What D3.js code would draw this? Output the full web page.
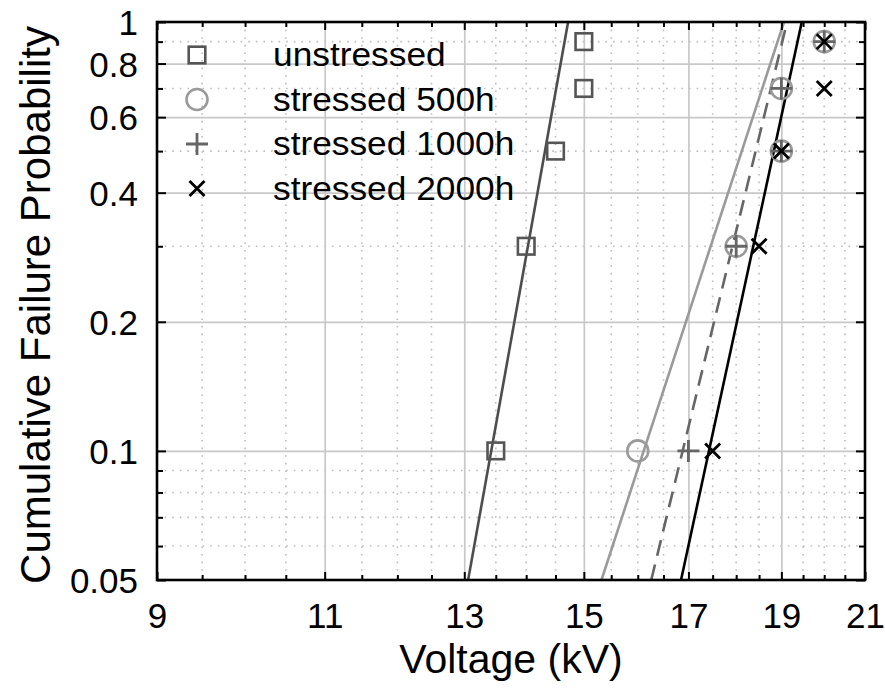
<!DOCTYPE html>
<html>
<head>
<meta charset="utf-8">
<script src="https://cdn.jsdelivr.net/npm/d3@7"></script>
<style>
  body { margin: 0; background: #fff; }
  svg { display: block; font-family: "Liberation Sans", Arial, Helvetica, sans-serif; }
</style>
</head>
<body>
<div id="chart"></div>
<script>
const seriesNames = ["unstressed", "stressed 500h", "stressed 1000h", "stressed 2000h"];
const probabilities = [0.1, 0.3, 0.5, 0.7, 0.9];
const unstressedVoltage = [13.5, 14, 14.5, 15, 15];
const stressed500Voltage = [16, 18, 19, 19, 20];
const stressed1000Voltage = [17, 18, 19, 19, 20];
const stressed2000Voltage = [17.5, 18.5, 19, 20, 20];

// fitted lines, voltage where each fit reaches F = 0.05 and F = 1
const fitProbabilities = [0.05, 1];
const unstressedFit = [13.06, 14.72];
const stressed500Fit = [15.32, 19.06];
const stressed1000Fit = [16.26, 19.13];
const stressed2000Fit = [16.85, 19.47];

const xTicks = [9, 11, 13, 15, 17, 19, 21];
const xMinorTicks = d3.range(9.5, 21, 0.5).filter(d => !xTicks.includes(d));
const yTicks = [0.05, 0.1, 0.2, 0.4, 0.6, 0.8, 1];
const yMinorTicks = [0.06, 0.07, 0.08, 0.09, 0.3, 0.5, 0.7, 0.9];

const series = [
  { name: seriesNames[0], v: unstressedVoltage, fit: unstressedFit, marker: "square", color: "#555", line: "#4d4d4d", dash: null },
  { name: seriesNames[1], v: stressed500Voltage, fit: stressed500Fit, marker: "circle", color: "#9a9a9a", line: "#9a9a9a", dash: null },
  { name: seriesNames[2], v: stressed1000Voltage, fit: stressed1000Fit, marker: "plus", color: "#666", line: "#666", dash: "16,9" },
  { name: seriesNames[3], v: stressed2000Voltage, fit: stressed2000Fit, marker: "cross", color: "#000", line: "#000", dash: null }
];

const width = 885, height = 692;
const margin = { top: 22, right: 20, bottom: 112, left: 157 };
const innerW = width - margin.left - margin.right;
const innerH = height - margin.top - margin.bottom;

const svg = d3.select("#chart")
  .append("svg")
  .attr("width", width)
  .attr("height", height);

svg.append("rect").attr("width", width).attr("height", height).attr("fill", "#fff");

const g = svg.append("g").attr("transform", `translate(${margin.left},${margin.top})`);

const x = d3.scaleLog().domain([9, 21]).range([0, innerW]);
const y = d3.scaleLog().domain([0.05, 1]).range([innerH, 0]);

g.append("defs").append("clipPath").attr("id", "plot-clip")
  .append("rect").attr("width", innerW).attr("height", innerH);

// dotted minor grid
g.append("g")
  .selectAll("line")
  .data(xMinorTicks)
  .enter().append("line")
  .attr("x1", d => x(d)).attr("x2", d => x(d))
  .attr("y1", 0).attr("y2", innerH)
  .style("stroke", "#bdbdbd")
  .style("stroke-width", 1.6)
  .style("stroke-dasharray", "1.6,6");

g.append("g")
  .selectAll("line")
  .data(yMinorTicks)
  .enter().append("line")
  .attr("x1", 0).attr("x2", innerW)
  .attr("y1", d => y(d)).attr("y2", d => y(d))
  .style("stroke", "#bdbdbd")
  .style("stroke-width", 1.6)
  .style("stroke-dasharray", "1.6,6");

// solid major grid
g.append("g")
  .attr("class", "grid")
  .call(d3.axisBottom(x).tickValues(xTicks.slice(1, -1)).tickSize(innerH).tickFormat(""))
  .call(s => s.select(".domain").remove())
  .selectAll("line")
  .style("stroke", "#c8c8c8")
  .style("stroke-width", 1.7);

g.append("g")
  .attr("class", "grid")
  .call(d3.axisLeft(y).tickValues(yTicks.slice(1, -1)).tickSize(-innerW).tickFormat(""))
  .call(s => s.select(".domain").remove())
  .selectAll("line")
  .style("stroke", "#c8c8c8")
  .style("stroke-width", 1.7);

// fitted lines
const line = d3.line()
  .x(d => x(d[0]))
  .y(d => y(d[1]));

g.append("g")
  .attr("clip-path", "url(#plot-clip)")
  .selectAll("path")
  .data(series)
  .enter().append("path")
  .attr("d", s => line(s.fit.map((v, i) => [v, fitProbabilities[i]])))
  .attr("fill", "none")
  .attr("stroke", s => s.line)
  .attr("stroke-width", 2.6)
  .attr("stroke-dasharray", s => s.dash);

function drawMarker(sel, type, color) {
  if (type === "square") {
    sel.append("rect")
      .attr("x", -8.3).attr("y", -8.3)
      .attr("width", 16.6).attr("height", 16.6)
      .attr("fill", "none").attr("stroke", color).attr("stroke-width", 2.6);
  } else if (type === "circle") {
    sel.append("circle")
      .attr("r", 10.5)
      .attr("fill", "none").attr("stroke", color).attr("stroke-width", 2.6);
  } else if (type === "plus") {
    sel.append("path")
      .attr("d", "M-11,0H11M0,-11V11")
      .attr("stroke", color).attr("stroke-width", 2.8);
  } else {
    sel.append("path")
      .attr("d", "M-7.5,-7.5L7.5,7.5M-7.5,7.5L7.5,-7.5")
      .attr("stroke", color).attr("stroke-width", 2.8);
  }
}

series.forEach(s => {
  g.append("g")
    .selectAll("g")
    .data(s.v.map((v, i) => [v, probabilities[i]]))
    .enter().append("g")
    .attr("transform", d => `translate(${x(d[0])},${y(d[1])})`)
    .each(function () { drawMarker(d3.select(this), s.marker, s.color); });
});

// axes box with inward ticks on all sides
const tickStyle = sel => sel.selectAll("line").attr("stroke", "#000").attr("stroke-width", 2);

g.append("g")
  .attr("transform", `translate(0,${innerH})`)
  .call(d3.axisBottom(x).tickValues(xMinorTicks).tickSize(-5).tickFormat(""))
  .call(s => s.select(".domain").remove())
  .call(tickStyle);
g.append("g")
  .attr("transform", `translate(0,${innerH})`)
  .call(d3.axisBottom(x).tickValues(xTicks).tickSize(-8).tickFormat(d3.format("d")))
  .call(s => s.select(".domain").remove())
  .call(tickStyle)
  .selectAll("text")
  .attr("y", 23)
  .attr("dy", "0.71em")
  .attr("fill", "#000")
  .style("font-size", "35px");

g.append("g")
  .call(d3.axisTop(x).tickValues(xMinorTicks).tickSize(-5).tickFormat(""))
  .call(s => s.select(".domain").remove())
  .call(tickStyle);
g.append("g")
  .call(d3.axisTop(x).tickValues(xTicks).tickSize(-8).tickFormat(""))
  .call(s => s.select(".domain").remove())
  .call(tickStyle);

g.append("g")
  .call(d3.axisLeft(y).tickValues(yMinorTicks).tickSize(-6).tickFormat(""))
  .call(s => s.select(".domain").remove())
  .call(tickStyle);
g.append("g")
  .call(d3.axisLeft(y).tickValues(yTicks).tickSize(-9).tickFormat(d => String(d)))
  .call(s => s.select(".domain").remove())
  .call(tickStyle)
  .selectAll("text")
  .attr("x", -19)
  .attr("dy", "0.36em")
  .attr("fill", "#000")
  .style("font-size", "35px");

g.append("g")
  .attr("transform", `translate(${innerW},0)`)
  .call(d3.axisRight(y).tickValues(yMinorTicks).tickSize(-6).tickFormat(""))
  .call(s => s.select(".domain").remove())
  .call(tickStyle);
g.append("g")
  .attr("transform", `translate(${innerW},0)`)
  .call(d3.axisRight(y).tickValues(yTicks).tickSize(-9).tickFormat(""))
  .call(s => s.select(".domain").remove())
  .call(tickStyle);

g.append("rect")
  .attr("width", innerW).attr("height", innerH)
  .attr("fill", "none")
  .attr("stroke", "#000")
  .attr("stroke-width", 2.6);

// axis titles
svg.append("text")
  .attr("x", margin.left + innerW / 2)
  .attr("y", 673)
  .attr("text-anchor", "middle")
  .style("font-size", "41px")
  .text("Voltage (kV)");

svg.append("text")
  .attr("transform", `translate(50,${margin.top + innerH / 2 + 4}) rotate(-90)`)
  .attr("text-anchor", "middle")
  .style("font-size", "42px")
  .text("Cumulative Failure Probability");

// legend
const legend = g.append("g").attr("transform", "translate(40,33)");
const rows = legend.selectAll("g")
  .data(series)
  .enter().append("g")
  .attr("transform", (d, i) => `translate(0,${i * 44.5})`);

rows.each(function (s) { drawMarker(d3.select(this), s.marker, s.color); });

rows.append("text")
  .attr("transform", "translate(76,11) scale(1.07,1)")
  .style("font-size", "33px")
  .text(s => s.name);
</script>
</body>
</html>
